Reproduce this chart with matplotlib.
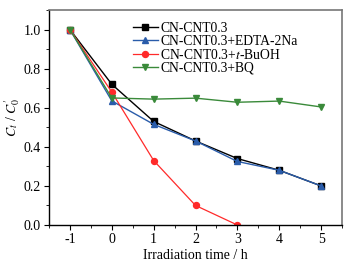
import numpy as np
import matplotlib
matplotlib.use("Agg")
import matplotlib.pyplot as plt
from matplotlib.ticker import MultipleLocator

plt.rcParams['font.family'] = ['Liberation Serif', 'DejaVu Serif']
plt.rcParams['mathtext.fontset'] = 'stix'
plt.rcParams['axes.unicode_minus'] = False

# Data
time_h = [-1, 0, 1, 2, 3, 4, 5]
cn_cnt = [1.0, 0.72, 0.53, 0.43, 0.34, 0.28, 0.20]
cn_edta = [1.0, 0.635, 0.515, 0.43, 0.325, 0.28, 0.20]
time_buoh = [-1, 0, 1, 2, 3]
cn_buoh = [1.0, 0.68, 0.33, 0.10, 0.0]
cn_bq = [1.0, 0.65, 0.644, 0.649, 0.628, 0.634, 0.604]

labels = ["CN-CNT0.3", "CN-CNT0.3+EDTA-2Na",
          "CN-CNT0.3+$t$-BuOH", "CN-CNT0.3+BQ"]

fig = plt.figure(figsize=(3.6, 2.64), dpi=100)
ax = fig.add_axes([49/360, 1 - 225/264, (342-49)/360, (225-10)/264])

ax.plot(time_h, cn_cnt, color='black', marker='s', ms=4.3, lw=1.0, label=labels[0])
ax.plot(time_h, cn_edta, color='#2a5caa', marker='^', ms=4.3, lw=1.0, label=labels[1])
ax.plot(time_buoh, cn_buoh, color='#ff2a2a', marker='o', ms=4.3, lw=0.9, label=labels[2])
ax.plot(time_h, cn_bq, color='#3a8a3a', marker='v', ms=4.3, lw=1.0, label=labels[3])

ax.set_xlim(-1.5, 5.5)
ax.set_ylim(0, 1.1)
ax.xaxis.set_major_locator(MultipleLocator(1))
ax.xaxis.set_minor_locator(MultipleLocator(0.5))
ax.yaxis.set_minor_locator(MultipleLocator(0.1))
ax.set_yticks([0, 0.2, 0.4, 0.6, 0.8, 1.0])
ax.set_yticklabels(["0.0", "0.2", "0.4", "0.6", "0.8", "1.0"])
ax.tick_params(which='both', direction='out', labelsize=10)
ax.tick_params(which='major', length=3.5, pad=2.5)
ax.tick_params(which='minor', length=2)

for s in ['top', 'right']:
    ax.spines[s].set_color('#777777')
    ax.spines[s].set_linewidth(1.2)
for s in ['left', 'bottom']:
    ax.spines[s].set_linewidth(1.0)

ax.set_xlabel("Irradiation time / h", fontsize=10, labelpad=2)
ax.set_ylabel("$C_t$ / $C_0^{\\prime}$", fontsize=10, labelpad=1)

ax.legend(loc='upper left', frameon=False, fontsize=9.8, handlelength=1.8,
          handletextpad=0.2, labelspacing=0.0, borderaxespad=0.0,
          borderpad=0.0, bbox_to_anchor=((133-49)/293, (225-22)/215))

fig.savefig("out.png", dpi=100)
